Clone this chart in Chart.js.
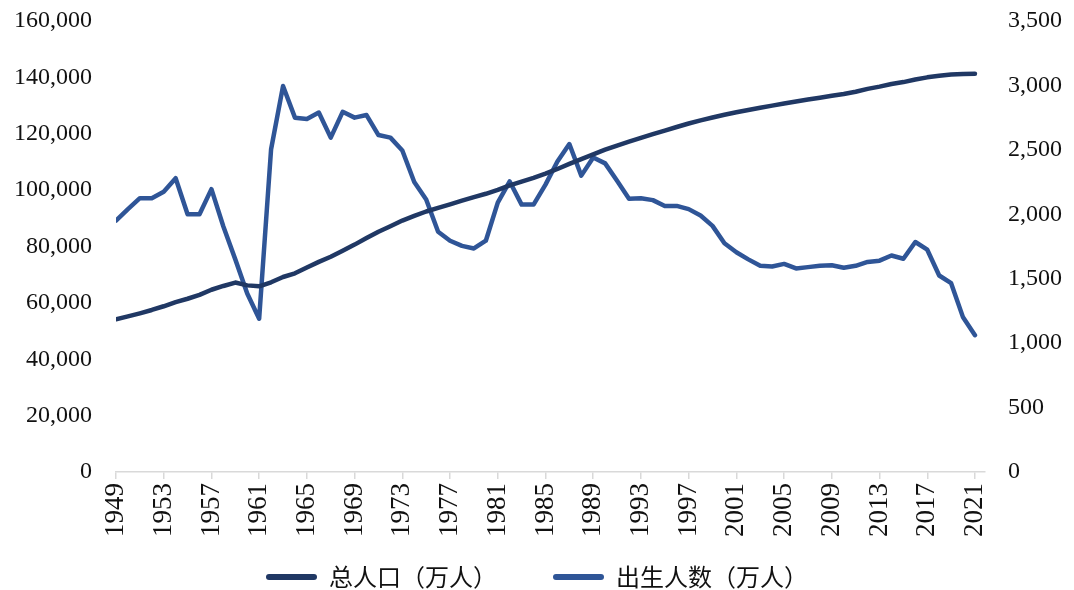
<!DOCTYPE html>
<html>
<head>
<meta charset="utf-8">
<script src="https://cdn.jsdelivr.net/npm/chart.js@4"></script>
<style>
  html, body { margin: 0; padding: 0; background: #ffffff; }
  #wrap { width: 1074px; height: 590px; position: relative; }
</style>
</head>
<body>
<div id="wrap"><canvas id="c" width="1074" height="590"></canvas></div>
<script>
const years = [];
for (let y = 1949; y <= 2021; y++) years.push(y);

const population = [
  54167, 55196, 56300, 57482, 58796, 60266, 61465, 62828, 64653, 65994,
  67207, 66207, 65859, 67296, 69172, 70499, 72538, 74542, 76368, 78534,
  80671, 82992, 85229, 87177, 89211, 90859, 92420, 93717, 94974, 96259,
  97542, 98705, 100072, 101654, 103008, 104357, 105851, 107507, 109300, 111026,
  112704, 114333, 115823, 117171, 118517, 119850, 121121, 122389, 123626, 124761,
  125786, 126743, 127627, 128453, 129227, 129988, 130756, 131448, 132129, 132802,
  133450, 134091, 134916, 135922, 136726, 137646, 138326, 139232, 140011, 140541,
  141008, 141212, 141260
];

const births = [
  1950, 2040, 2125, 2125, 2175, 2280, 2000, 2000, 2195, 1905,
  1650, 1385, 1190, 2505, 2995, 2750, 2740, 2790, 2595, 2795,
  2750, 2770, 2615, 2595, 2495, 2250, 2115, 1865, 1795, 1755,
  1735, 1795, 2090, 2255, 2075, 2075, 2230, 2410, 2545, 2300,
  2440, 2395, 2260, 2120, 2125, 2110, 2065, 2065, 2040, 1990,
  1910, 1775, 1705, 1650, 1600, 1595, 1615, 1580, 1590, 1600,
  1605, 1585, 1600, 1630, 1640, 1680, 1655, 1785, 1725, 1525,
  1465, 1200, 1062
];

const yearTicks = years.filter((y, i) => i % 4 === 0);
const leftTicks = [0, 20000, 40000, 60000, 80000, 100000, 120000, 140000, 160000];
const rightTicks = [0, 500, 1000, 1500, 2000, 2500, 3000, 3500];
const seriesNames = ['总人口（万人）', '出生人数（万人）'];

const navy = '#203864';
const blue = '#2F5597';
const tickFont = { family: '"Liberation Serif", "Times New Roman", serif', size: 24 };

function noVPad(scale, width) {
  scale.width = width;
  scale.paddingTop = 0;
  scale.paddingBottom = 0;
}

new Chart(document.getElementById('c'), {
  type: 'line',
  data: {
    datasets: [
      {
        label: seriesNames[0],
        data: years.map((y, i) => ({ x: y, y: population[i] })),
        yAxisID: 'yL',
        borderColor: navy,
        backgroundColor: navy,
        borderWidth: 4.5,
        pointRadius: 0,
        tension: 0,
        borderJoinStyle: 'round',
        borderCapStyle: 'round'
      },
      {
        label: seriesNames[1],
        data: years.map((y, i) => ({ x: y, y: births[i] })),
        yAxisID: 'yR',
        borderColor: blue,
        backgroundColor: blue,
        borderWidth: 4.5,
        pointRadius: 0,
        tension: 0,
        borderJoinStyle: 'round',
        borderCapStyle: 'round'
      }
    ]
  },
  options: {
    responsive: false,
    animation: false,
    devicePixelRatio: 1,
    layout: { padding: { top: 21, left: 0, right: 0, bottom: -9 } },
    plugins: {
      tooltip: { enabled: false },
      legend: {
        position: 'bottom',
        labels: {
          boxWidth: 51,
          boxHeight: 6,
          padding: 56,
          color: '#111111',
          useBorderRadius: true,
          borderRadius: 3,
          font: { family: '"Noto Sans CJK SC", sans-serif', size: 24 },
          generateLabels: (chart) => chart.data.datasets.map((ds, i) => ({
            text: ds.label,
            fillStyle: ds.borderColor,
            strokeStyle: ds.borderColor,
            lineWidth: 0,
            borderRadius: 3,
            hidden: false,
            datasetIndex: i,
            fontColor: '#111111'
          }))
        }
      }
    },
    scales: {
      x: {
        type: 'linear',
        min: years[0],
        max: 2021.84,
        afterBuildTicks: (scale) => { scale.ticks = yearTicks.map(v => ({ value: v })); },
        afterFit: (scale) => {
          scale.height = 37;
          scale._computeLabelArea = () => undefined;
        },
        ticks: {
          autoSkip: false,
          maxRotation: 90,
          minRotation: 90,
          padding: 4,
          color: '#111111',
          font: { family: tickFont.family, size: 27 },
          callback: (v) => String(v)
        },
        grid: {
          display: true,
          drawOnChartArea: false,
          drawTicks: true,
          tickLength: 7,
          color: '#d9d9d9',
          lineWidth: 1.5
        },
        border: { display: true, color: '#d9d9d9', width: 1.5 }
      },
      yL: {
        type: 'linear',
        position: 'left',
        min: 0,
        max: 160000,
        afterBuildTicks: (scale) => { scale.ticks = leftTicks.map(v => ({ value: v })); },
        afterFit: (scale) => noVPad(scale, 116),
        ticks: {
          padding: 24,
          color: '#111111',
          font: tickFont,
          callback: (v) => v.toLocaleString('en-US')
        },
        grid: { display: false, drawTicks: false },
        border: { display: false }
      },
      yR: {
        type: 'linear',
        position: 'right',
        min: 0,
        max: 3500,
        afterBuildTicks: (scale) => { scale.ticks = rightTicks.map(v => ({ value: v })); },
        afterFit: (scale) => noVPad(scale, 89),
        ticks: {
          padding: 23,
          color: '#111111',
          font: tickFont,
          callback: (v) => v.toLocaleString('en-US')
        },
        grid: { display: false, drawTicks: false },
        border: { display: false }
      }
    }
  }
});
</script>
</body>
</html>
